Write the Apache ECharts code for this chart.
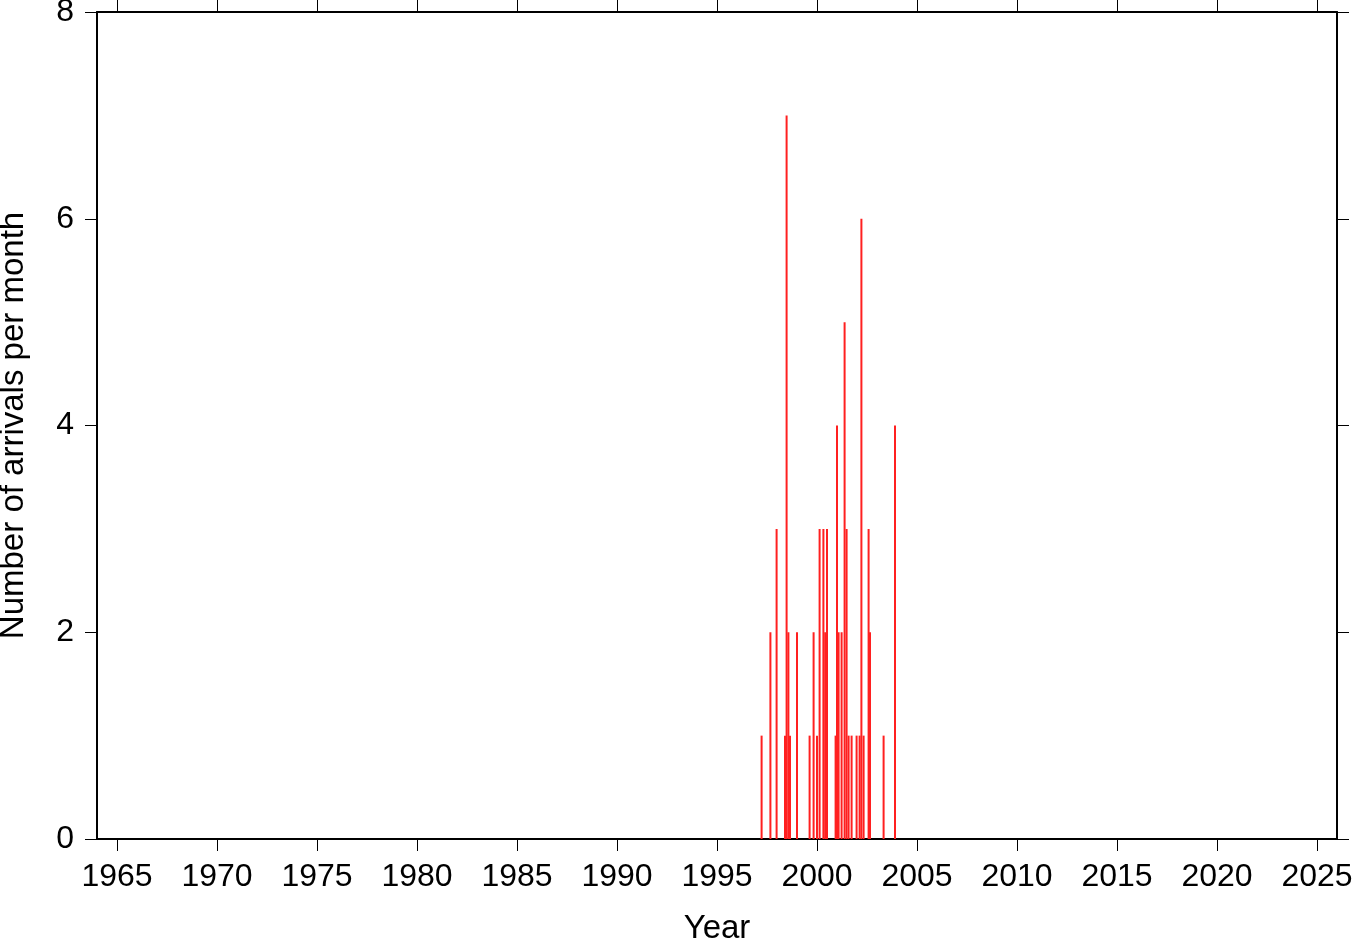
<!DOCTYPE html>
<html>
<head>
<meta charset="utf-8">
<script src="https://cdn.jsdelivr.net/npm/echarts@6/dist/echarts.min.js"></script>
<style>html,body{margin:0;padding:0;background:#fff}#c{width:1363px;height:942px}</style>
</head>
<body>
<div id="c"></div>
<script>
const years = [1997.23,1997.67,1997.98,1998.40,1998.48,1998.57,1998.65,1999.00,1999.63,1999.83,2000.00,2000.13,2000.32,2000.41,2000.50,2000.93,2001.00,2001.08,2001.23,2001.38,2001.48,2001.58,2001.73,2001.98,2002.13,2002.22,2002.33,2002.58,2002.65,2003.33,2003.90];
const counts = [1,2,3,1,7,2,1,2,1,2,1,3,3,2,3,1,4,2,2,5,3,1,1,1,1,6,1,3,2,1,4];
const xTicks = [1965,1970,1975,1980,1985,1990,1995,2000,2005,2010,2015,2020,2025];
const yTicks = [0,2,4,6,8];
const xTitle = 'Year';
const yTitle = 'Number of arrivals per month';

const font = 'Liberation Sans, Helvetica, Arial, sans-serif';
const line = {show:true, onZero:false, lineStyle:{color:'#000', width:2}};
const tick = {show:true, inside:false, length:12, lineStyle:{color:'#000', width:1}};

const chart = echarts.init(document.getElementById('c'));
chart.setOption({
  animation:false,
  grid:{left:97, top:12, right:26, bottom:103, containLabel:false, outerBoundsMode:'none'},
  xAxis:[
    {type:'value', min:1964, max:2026, position:'bottom',
     name:xTitle, nameLocation:'middle', nameGap:73,
     nameTextStyle:{fontFamily:font, fontSize:33, color:'#000'},
     axisLine:line, axisTick:Object.assign({customValues:xTicks}, tick),
     axisLabel:{customValues:xTicks, formatter:v=>String(v), fontFamily:font, fontSize:32, color:'#000', margin:22},
     splitLine:{show:false}},
    {type:'value', min:1964, max:2026, position:'top',
     axisLine:line, axisTick:Object.assign({customValues:xTicks}, tick),
     axisLabel:{show:false, customValues:xTicks}, splitLine:{show:false}}
  ],
  yAxis:[
    {type:'value', min:0, max:8, interval:2, position:'left',
     name:yTitle, nameLocation:'middle', nameGap:67, nameRotate:90,
     nameTextStyle:{fontFamily:font, fontSize:33, color:'#000'},
     axisLine:line, axisTick:tick,
     axisLabel:{customValues:yTicks, formatter:v=>String(v), fontFamily:font, fontSize:32, color:'#000', margin:23},
     splitLine:{show:false}},
    {type:'value', min:0, max:8, interval:2, position:'right',
     axisLine:line, axisTick:tick, axisLabel:{show:false}, splitLine:{show:false}}
  ],
  series:[{
    type:'bar', xAxisIndex:0, yAxisIndex:0,
    barWidth:2,
    itemStyle:{color:'#ff2020'},
    data: years.map((y,i)=>[y,counts[i]])
  }]
});
</script>
</body>
</html>
